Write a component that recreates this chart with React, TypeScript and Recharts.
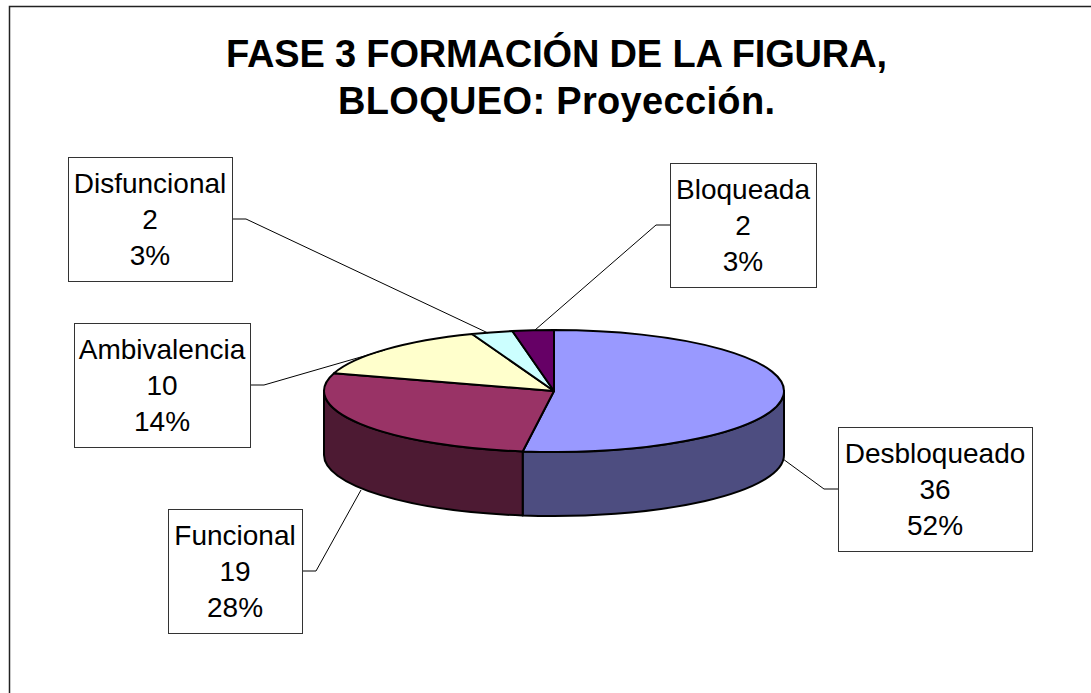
import { Pie, PieChart } from "recharts"

const categories = ["Desbloqueado", "Funcional", "Ambivalencia", "Disfuncional", "Bloqueada"]
const counts = [36, 19, 10, 2, 2]
const topColors = ["#9999FF", "#993366", "#FFFFCC", "#CCFFFF", "#660066"]
const wallColors = ["#4D4D80", "#4D1A33", "#808066", "#668080", "#330033"]
const titleLines = ["FASE 3 FORMACIÓN DE LA FIGURA,", "BLOQUEO: Proyección."]

const pieData = categories.map((name, i) => ({ name, value: counts[i], fill: topColors[i], wall: wallColors[i] }))

// callout boxes and leader lines, same order as categories
const boxes = [
  { x: 838, y: 427, w: 194, h: 124, line: "838,489 824,489 783,459" },
  { x: 168, y: 509, w: 134, h: 124, line: "302,571 316,571 361,490" },
  { x: 74, y: 323, w: 176, h: 124, line: "250,385 264,385 385,350" },
  { x: 68, y: 157, w: 164, h: 124, line: "232,219 246,219 488,333" },
  { x: 670, y: 163, w: 146, h: 124, line: "670,225 656,225 535,330" },
]

const DEPTH = 64
const SQUASH = 61 / 230

function FlatSector(props: any) {
  const { cx, cy, outerRadius, startAngle, endAngle, fill, payload } = props
  const rx = outerRadius
  const ry = outerRadius * SQUASH
  const pt = (deg: number) => {
    const a = (deg * Math.PI) / 180
    return [cx + rx * Math.cos(a), cy - ry * Math.sin(a)]
  }
  const [x0, y0] = pt(startAngle)
  const [x1, y1] = pt(endAngle)
  const large = Math.abs(startAngle - endAngle) > 180 ? 1 : 0
  const top = `M${cx},${cy} L${x0},${y0} A${rx},${ry} 0 ${large} 1 ${x1},${y1} Z`

  // wall only shows on the front half, between 180 and 360 deg
  const from = Math.max(-startAngle, 0)
  const to = Math.min(-endAngle, 180)
  const walls = []
  if (to > from) {
    const [wx0, wy0] = pt(-from)
    const [wx1, wy1] = pt(-to)
    walls.push(
      <path
        key="wall"
        d={`M${wx0},${wy0} A${rx},${ry} 0 0 1 ${wx1},${wy1} L${wx1},${wy1 + DEPTH} A${rx},${ry} 0 0 0 ${wx0},${wy0 + DEPTH} Z`}
        fill={payload.wall ?? props.wall}
        stroke="#000"
        strokeWidth={2}
        strokeLinejoin="round"
      />
    )
  }
  return (
    <g>
      {walls}
      <path d={top} fill={fill} stroke="#000" strokeWidth={2} strokeLinejoin="round" />
    </g>
  )
}

function Callout(props: any) {
  const { index, name, value, percent } = props
  const b = boxes[index]
  const mid = b.x + b.w / 2
  return (
    <g>
      <polyline points={b.line} fill="none" stroke="#000" strokeWidth={1} />
      <rect x={b.x + 0.5} y={b.y + 0.5} width={b.w} height={b.h} fill="#fff" stroke="#333" strokeWidth={1} />
      <text textAnchor="middle" fontFamily="Liberation Sans" fontSize={28} fill="#000">
        <tspan x={mid} y={b.y + 36}>{name}</tspan>
        <tspan x={mid} y={b.y + 72}>{value}</tspan>
        <tspan x={mid} y={b.y + 108}>{Math.round(percent * 100)}%</tspan>
      </text>
    </g>
  )
}

export default function App() {
  return (
    <div style={{ position: "absolute", left: 0, top: 0, width: 1091, height: 693, background: "#fff" }}>
      <PieChart width={1091} height={693} margin={{ top: 0, right: 0, bottom: 0, left: 0 }}>
        {/* frame runs off the right and bottom of the page */}
        <rect x={9.5} y={6.5} width={1200} height={800} fill="#fff" stroke="#222" strokeWidth={1.5} />
        <text x={556.5} y={67} textAnchor="middle" textLength={661} fontFamily="Liberation Sans" fontWeight="bold" fontSize={38} fill="#000">
          {titleLines[0]}
        </text>
        <text x={556.5} y={114} textAnchor="middle" textLength={437} fontFamily="Liberation Sans" fontWeight="bold" fontSize={38} fill="#000">
          {titleLines[1]}
        </text>
        <Pie
          data={pieData}
          dataKey="value"
          nameKey="name"
          cx={554}
          cy={391}
          innerRadius={0}
          outerRadius={230}
          startAngle={90}
          endAngle={-270}
          isAnimationActive={false}
          shape={FlatSector}
          label={Callout}
          labelLine={false}
        />
      </PieChart>
    </div>
  )
}
